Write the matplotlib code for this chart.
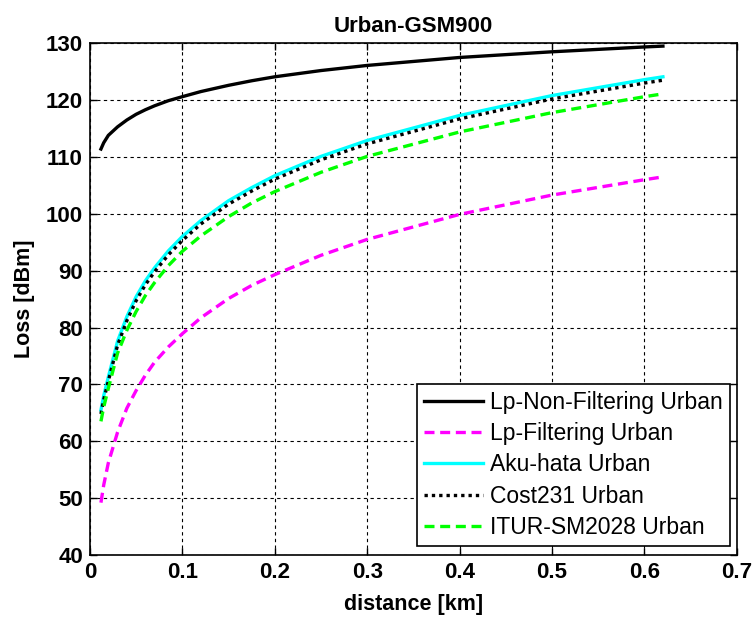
import matplotlib
matplotlib.use("Agg")
import matplotlib.pyplot as plt

plt.rcParams["font.family"] = ["Liberation Sans", "DejaVu Sans"]

# distance [km] and path loss readings for each model
distance = [0.012, 0.015, 0.02, 0.03, 0.04, 0.05, 0.06, 0.07, 0.085, 0.1,
            0.12, 0.15, 0.175, 0.2, 0.25, 0.3, 0.4, 0.5, 0.6, 0.62]
lp_non_filtering = [111.4, 112.5, 113.8, 115.3, 116.5, 117.5, 118.3, 119.0,
                    119.9, 120.6, 121.5, 122.6, 123.4, 124.1, 125.2, 126.1,
                    127.5, 128.5, 129.35, 129.5]
lp_filtering = [49.2, 52.3, 56.2, 61.6, 65.8, 68.9, 71.6, 73.9, 76.6, 78.9,
                81.7, 85.1, 87.4, 89.3, 92.7, 95.5, 99.9, 103.3, 106.0, 106.5]
aku_hata = [65.5, 68.0, 71.3, 77.6, 81.9, 85.4, 88.2, 90.5, 93.5, 96.0,
            98.8, 102.3, 104.6, 106.7, 110.1, 112.9, 117.3, 120.8, 123.6, 124.1]
cost231 = [64.8, 67.3, 70.6, 76.9, 81.2, 84.7, 87.5, 89.8, 92.8, 95.3,
           98.2, 101.7, 104.0, 106.1, 109.5, 112.3, 116.7, 120.2, 123.0, 123.5]
itur_sm2028 = [63.5, 66.0, 69.3, 75.5, 79.5, 82.8, 85.6, 87.9, 90.9, 93.4,
               96.1, 99.5, 101.9, 103.9, 107.3, 110.1, 114.4, 117.8, 120.6, 121.1]

x_ticks = [0, 0.1, 0.2, 0.3, 0.4, 0.5, 0.6, 0.7]
x_tick_labels = ["0", "0.1", "0.2", "0.3", "0.4", "0.5", "0.6", "0.7"]
y_ticks = [40, 50, 60, 70, 80, 90, 100, 110, 120, 130]

fig = plt.figure(figsize=(7.55, 6.18), dpi=100)
ax = fig.add_axes([0.119, 0.102, 0.857, 0.828])

ax.plot(distance, lp_non_filtering, color="black", lw=2.4,
        label="Lp-Non-Filtering Urban")
ax.plot(distance, lp_filtering, color="#ff00ff", lw=2.4, linestyle=(0, (3, 1.7)),
        label="Lp-Filtering Urban")
ax.plot(distance, aku_hata, color="#00ffff", lw=2.4,
        label="Aku-hata Urban")
ax.plot(distance, cost231, color="black", lw=2.4, linestyle=(0, (1, 1.2)),
        label="Cost231 Urban")
ax.plot(distance, itur_sm2028, color="#00ff00", lw=2.4, linestyle=(0, (3, 1.7)),
        label="ITUR-SM2028 Urban")

ax.set_xlim(0, 0.7)
ax.set_ylim(40, 130)
ax.set_xticks(x_ticks)
ax.set_xticklabels(x_tick_labels)
ax.set_yticks(y_ticks)
ax.tick_params(direction="in", top=True, right=True, length=5, width=1,
               labelsize=16)
ax.tick_params(axis="y", pad=5)
ax.tick_params(axis="x", pad=5)
for lab in ax.get_xticklabels() + ax.get_yticklabels():
    lab.set_fontweight("bold")

ax.grid(True, color="black", linestyle=(0, (3, 3)), linewidth=0.8)
for sp in ax.spines.values():
    sp.set_linewidth(1.2)

ax.set_title("Urban-GSM900", fontsize=16, fontweight="bold", pad=8)
ax.set_xlabel("distance [km]", fontsize=15.5, fontweight="bold", labelpad=8)
ax.set_ylabel("Loss [dBm]", fontsize=15.5, fontweight="bold", labelpad=8)

leg = ax.legend(loc="lower right", bbox_to_anchor=(0.989, 0.018),
                fontsize=16.5, handlelength=2.6, borderaxespad=0,
                fancybox=False, framealpha=1, edgecolor="black",
                labelspacing=0.36, borderpad=0.3, handletextpad=0.3)
leg.get_frame().set_linewidth(1.2)

fig.savefig("out.png", dpi=100)
